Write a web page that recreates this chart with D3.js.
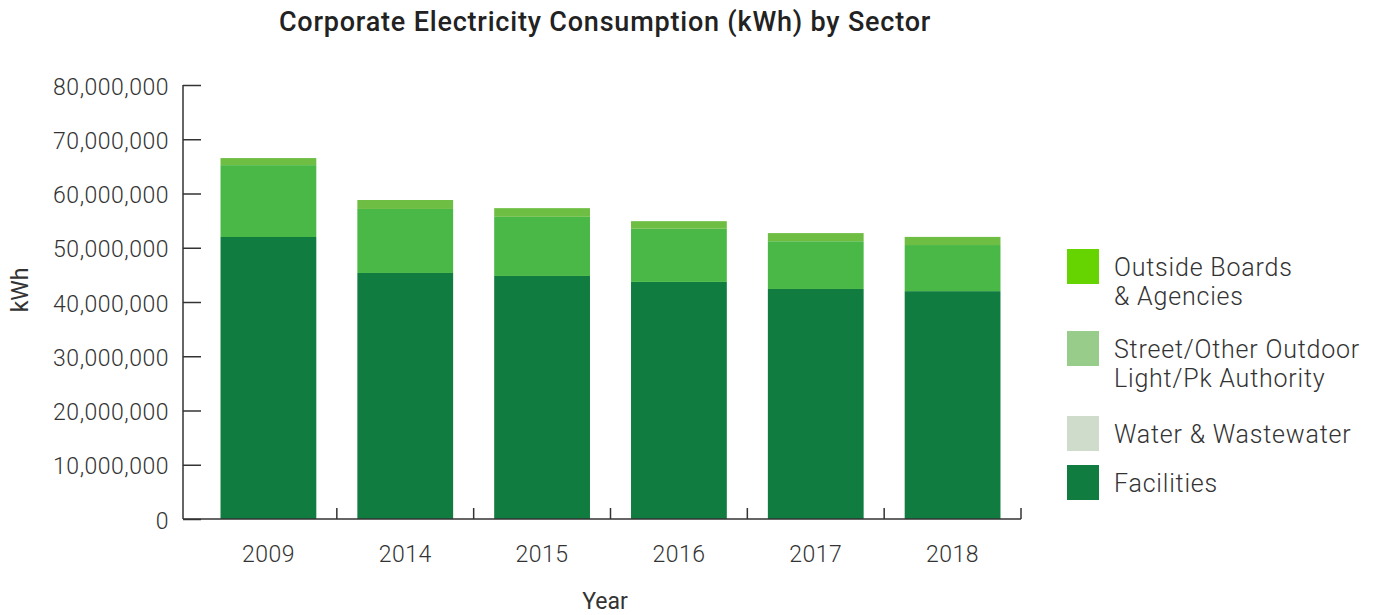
<!DOCTYPE html>
<html>
<head>
<meta charset="utf-8">
<script src="https://cdn.jsdelivr.net/npm/d3@7"></script>
<style>
  body { margin: 0; background: #fff; }
  text { font-family: Roboto, "DejaVu Sans", sans-serif; fill: #333; }
</style>
</head>
<body>
<div id="chart"></div>
<script>
// data (kWh)
var years = ["2009", "2014", "2015", "2016", "2017", "2018"];
var facilities = [51980000, 45350000, 44800000, 43700000, 42400000, 42000000];
var water = [0, 0, 0, 0, 0, 0];
var street = [13250000, 11800000, 10900000, 9800000, 8800000, 8500000];
var outside = [1300000, 1650000, 1600000, 1400000, 1500000, 1500000];
var yTicks = [0, 10000000, 20000000, 30000000, 40000000, 50000000, 60000000, 70000000, 80000000];

var keys = ["facilities", "water", "street", "outside"];
var barColor = {facilities: "#107c3f", water: "#cfdccb", street: "#4ab847", outside: "#6fbe44"};
var legendItems = [
  {lines: ["Outside Boards", "& Agencies"], color: "#66d400", y: 249},
  {lines: ["Street/Other Outdoor", "Light/Pk Authority"], color: "#98cc8a", y: 331},
  {lines: ["Water & Wastewater"], color: "#cfdccb", y: 416},
  {lines: ["Facilities"], color: "#107c3f", y: 465}
];

var rows = years.map(function(y, i) {
  return {year: y, facilities: facilities[i], water: water[i], street: street[i], outside: outside[i]};
});

var W = 1379, H = 615;
var svg = d3.select("#chart").append("svg")
  .attr("width", W).attr("height", H);

var axisX = 183, plotLeft = 200, plotRight = 1021, plotTop = 85, plotBottom = 519;

var x = d3.scaleBand()
  .domain(years)
  .range([plotLeft, plotRight])
  .paddingInner(0.3)
  .paddingOuter(0.15);

var y = d3.scaleLinear()
  .domain([0, 80000000])
  .range([plotBottom, plotTop]);

// title
svg.append("text")
  .attr("x", 605).attr("y", 31)
  .attr("text-anchor", "middle")
  .style("font-size", "27px")
  .style("font-weight", 500)
  .style("letter-spacing", "0.8px")
  .style("fill", "#222")
  .text("Corporate Electricity Consumption (kWh) by Sector");

// stacked bars
var stack = d3.stack().keys(keys)(rows);
svg.append("g").selectAll("g")
  .data(stack)
  .enter().append("g")
    .attr("fill", function(d) { return barColor[d.key]; })
  .selectAll("rect")
  .data(function(d) { return d; })
  .enter().append("rect")
    .attr("x", function(d) { return x(d.data.year); })
    .attr("width", x.bandwidth())
    .attr("y", function(d) { return y(d[1]); })
    .attr("height", function(d) { return y(d[0]) - y(d[1]); });

// y axis
var yAxis = svg.append("g")
  .attr("transform", "translate(" + axisX + ",0)")
  .call(d3.axisRight(y).tickValues(yTicks).tickSize(18).tickFormat(""));
yAxis.select(".domain").remove();
yAxis.selectAll(".tick line").attr("stroke", "#333").attr("stroke-width", 1.5);
svg.append("line")
  .attr("x1", axisX).attr("x2", axisX)
  .attr("y1", y(80000000)).attr("y2", y(0))
  .attr("stroke", "#333").attr("stroke-width", 1.5);

svg.append("g").selectAll("text")
  .data(yTicks)
  .enter().append("text")
    .attr("x", axisX - 14)
    .attr("y", function(d) { return y(d); })
    .attr("dy", "0.42em")
    .attr("text-anchor", "end")
    .style("font-size", "23px")
    .style("font-weight", 300)
    .style("letter-spacing", "0.5px")
    .text(function(d) { return d3.format(",")(d); });

// x axis
svg.append("line")
  .attr("x1", axisX).attr("x2", plotRight)
  .attr("y1", plotBottom).attr("y2", plotBottom)
  .attr("stroke", "#333").attr("stroke-width", 1.5);

// category boundary ticks, pointing up
var gap = x.step() - x.bandwidth();
svg.append("g").selectAll("line")
  .data(years)
  .enter().append("line")
    .attr("x1", function(d) { return x(d) + x.bandwidth() + gap / 2; })
    .attr("x2", function(d) { return x(d) + x.bandwidth() + gap / 2; })
    .attr("y1", plotBottom).attr("y2", plotBottom - 11)
    .attr("stroke", "#333").attr("stroke-width", 1.5);

svg.append("g").selectAll("text")
  .data(years)
  .enter().append("text")
    .attr("x", function(d) { return x(d) + x.bandwidth() / 2; })
    .attr("y", 562)
    .attr("text-anchor", "middle")
    .style("font-size", "23px")
    .style("font-weight", 300)
    .style("letter-spacing", "0.5px")
    .text(function(d) { return d; });

svg.append("text")
  .attr("x", 605).attr("y", 609)
  .attr("text-anchor", "middle")
  .style("font-size", "23px")
  .style("font-weight", 400)
  .text("Year");

svg.append("text")
  .attr("transform", "translate(28,290) rotate(-90)")
  .attr("text-anchor", "middle")
  .style("font-size", "23px")
  .style("font-weight", 400)
  .text("kWh");

// legend
var lg = svg.append("g").selectAll("g")
  .data(legendItems)
  .enter().append("g")
    .attr("transform", function(d) { return "translate(1067," + d.y + ")"; });
lg.append("rect")
  .attr("width", 32).attr("height", 35)
  .attr("fill", function(d) { return d.color; });
lg.append("text")
  .style("font-size", "25px")
  .style("font-weight", 300)
  .style("letter-spacing", "0.8px")
  .selectAll("tspan")
  .data(function(d) { return d.lines; })
  .enter().append("tspan")
    .attr("x", 47)
    .attr("y", function(d, i) { return 27 + i * 29; })
    .text(function(d) { return d; });
</script>
</body>
</html>
